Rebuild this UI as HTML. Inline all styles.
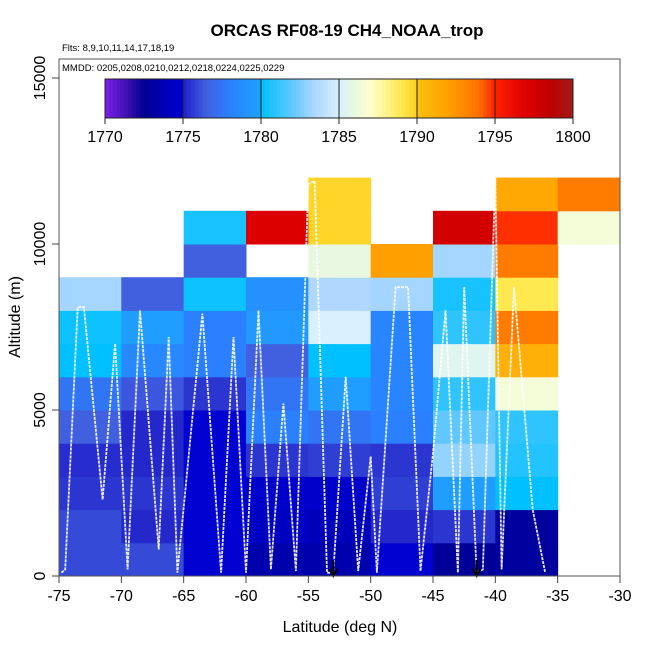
<!DOCTYPE html>
<html><head><meta charset="utf-8"><style>
body{margin:0;background:#fff}
svg text{font-family:"Liberation Sans",sans-serif}
</style></head><body>
<svg id="c" width="650" height="650" viewBox="0 0 650 650" xmlns="http://www.w3.org/2000/svg">
<text x="347" y="36" text-anchor="middle" font-size="17" font-weight="bold">ORCAS RF08-19 CH4_NOAA_trop</text>
<text x="62" y="51" font-size="9.5">Flts: 8,9,10,11,14,17,18,19</text>
<g id="cells"></g>
<g id="tracks"></g>
<g id="cbar"></g>
<text x="62" y="71" font-size="9.5">MMDD: 0205,0208,0210,0212,0218,0224,0225,0229</text>
<rect x="59" y="59" width="561" height="517" fill="none" stroke="#555" stroke-width="1"/>
<g id="axes"></g>
<text x="340" y="632" text-anchor="middle" font-size="16">Latitude (deg N)</text>
<text transform="translate(20,317) rotate(-90)" text-anchor="middle" font-size="16">Altitude (m)</text>
</svg>
<script>
const colLats=[-75,-70,-65,-60,-55,-50,-45,-40,-35];
// CH4 values per column, rows from 0-1000 m upward (null = no data)
const col0=[1776,1776,1775.5,1775.3,1776.5,1777.5,1780,1780.3,1783.3];
const col1=[1776,1775.2,1775.5,1775.2,1775.2,1776.3,1778.5,1779.8,1776.5];
const col2=[1775,1775,1775,1775,1775,1775.5,1778,1778,1780.3,1776.5,1780.5];
const col3=[1773.5,1774.3,1774.7,1775.5,1778,1777.5,1776.5,1779.5,1779,null,1797];
const col4=[1773.5,1774,1774.7,1775.7,1777.5,1779.8,1780,1785,1783.5,1786,1789.8,1789.8];
const col5=[1775,1775.2,1775.7,1775.5,1778,1778.3,1778.3,1778.3,1783.3,1792];
const col6=[1772.8,1775.5,1779.8,1783,1782,1781,1785.5,1781,1780.5,1783.3,1797.5];
const col7=[1773,1773,1780,1780.7,1781,1786.5,1791,1793.5,1789,1793.5,1794.8,1791.5];
const col8=[null,null,null,null,null,null,null,null,null,null,1786.5,1793.5];
const cols=[col0,col1,col2,col3,col4,col5,col6,col7,col8];
const cbTicks=[1770,1775,1780,1785,1790,1795,1800];
const xTicks=[-75,-70,-65,-60,-55,-50,-45,-40,-35,-30];
const yTicks=[0,5000,10000,15000];
const stopV=[1770,1771.5,1772.5,1774.5,1775,1775.01,1776.5,1778,1779.9,1780,1782,1783.5,1785,1786,1787,1789,1790,1790.01,1792,1794,1795,1797,1798.5,1800];
const stopC=["#7a1fe8","#3a10b0","#000090","#0000c8","#0000d0","#2020c8","#4060e0","#2a80ff","#1ea0ff","#00c0ff","#60c8ff","#b0d8ff","#d8f0ff","#e8f8e0","#ffffd0","#ffe850","#ffd020","#ffc010","#ffa000","#ff7000","#ff2000","#dd0000","#c00000","#a01a1a"];
// flight track waypoints (lat, alt m)
const trackLat=[-74.8,-74.5,-73.5,-73,-71.5,-70.5,-69.5,-68.5,-67,-66.2,-65.5,-64.5,-63.5,-62,-61,-60,-59,-58,-57,-56,-55,-54.5,-53.5,-53,-52,-51,-50,-49.5,-48,-47,-46,-45,-44,-43,-42.5,-41.5,-41,-40,-39.5,-38.5,-37,-36];
const trackAlt=[100,200,8100,8100,2300,7000,200,8000,800,7200,100,4000,7900,100,7200,100,8000,200,5200,150,11800,11900,100,100,6000,150,3600,100,8700,8700,150,3700,8000,100,8700,100,200,12000,200,8700,2000,100];
const X=v=>59+(v+75)*561/45, Y=a=>576-a*(498/15000), CB=v=>105+(v-1770)*(468/30);
function hex(h){return [1,3,5].map(i=>parseInt(h.substr(i,2),16));}
function color(v){
  if(v<=stopV[0])return stopC[0];
  for(let i=1;i<stopV.length;i++){if(v<=stopV[i]){const t=(v-stopV[i-1])/(stopV[i]-stopV[i-1]);const a=hex(stopC[i-1]),b=hex(stopC[i]);return "rgb("+a.map((x,k)=>Math.round(x+(b[k]-x)*t)).join(",")+")";}}
  return stopC[stopC.length-1];
}
const NS="http://www.w3.org/2000/svg";
function mk(tag,attrs,parent){const e=document.createElementNS(NS,tag);for(const k in attrs)e.setAttribute(k,attrs[k]);parent.appendChild(e);return e;}
const gc=document.getElementById('cells');
cols.forEach((col,ci)=>{col.forEach((v,ri)=>{if(v==null)return;
  const r=mk('rect',{x:X(colLats[ci]),y:Y((ri+1)*1000),width:X(colLats[ci]+5)-X(colLats[ci])+0.5,height:Y(ri*1000)-Y((ri+1)*1000)+0.5,fill:color(v)},gc);
  
  
});});
const gt=document.getElementById('tracks');
const pts=trackLat.map((l,i)=>X(l).toFixed(1)+","+Y(trackAlt[i]).toFixed(1)).join(" ");
const pl=mk('polyline',{points:pts,fill:'none',stroke:'#fff','stroke-width':1.8,'stroke-dasharray':'3,1',opacity:0.9},gt);


[-53,-41.5].forEach(l=>{
  const a=mk('path',{d:`M${X(l)},${Y(0)-16} V${Y(0)} M${X(l)-4},${Y(0)-7} L${X(l)},${Y(0)} L${X(l)+4},${Y(0)-7}`,stroke:'#000','stroke-width':2,fill:'none'},gt);
  
  
});
const gb=document.getElementById('cbar');
for(let v=1770;v<1800;v+=0.25){mk('rect',{x:CB(v),y:79,width:CB(v+0.25)-CB(v)+0.4,height:39,fill:color(v+0.125)},gb);}
const cbf=mk('rect',{x:105,y:79,width:468,height:39,fill:'none',stroke:'#222'},gb);


cbTicks.forEach(t=>{
  mk('line',{x1:CB(t),x2:CB(t),y1:79,y2:124,stroke:'#222'},gb);
  const tx=mk('text',{x:CB(t),y:142,'text-anchor':'middle','font-size':16},gb);tx.textContent=t;
  
  
});
const ga=document.getElementById('axes');
xTicks.forEach(t=>{
  mk('line',{x1:X(t),x2:X(t),y1:576,y2:583,stroke:'#444'},ga);
  const tx=mk('text',{x:X(t),y:601,'text-anchor':'middle','font-size':16},ga);tx.textContent=t;
  
  
});
yTicks.forEach(t=>{
  mk('line',{x1:52,x2:59,y1:Y(t),y2:Y(t),stroke:'#444'},ga);
  const tx=mk('text',{x:0,y:0,'text-anchor':'middle','font-size':16,transform:`translate(45,${Y(t)}) rotate(-90)`},ga);tx.textContent=t;
  
  
});
</script>
</body></html>
